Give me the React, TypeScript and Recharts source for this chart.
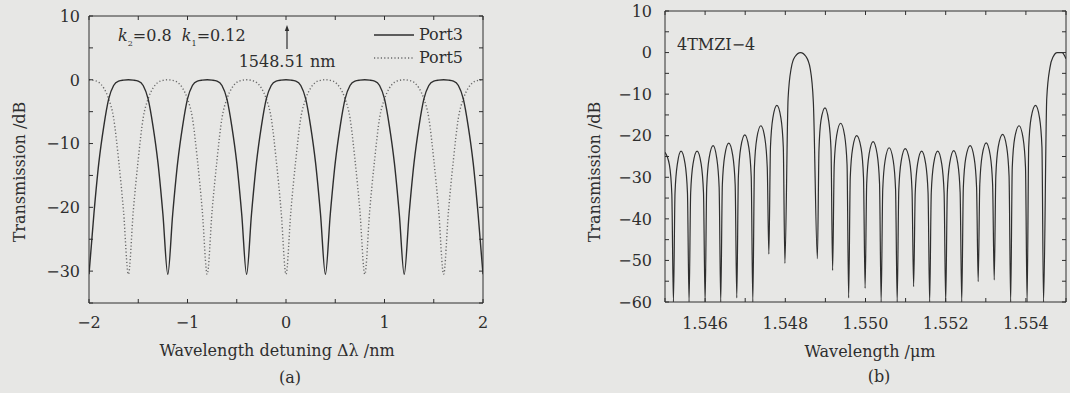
import React from "react";
import { Legend, Line, LineChart, XAxis, YAxis } from "recharts";

// (a) detuning in nm, sampled every 0.05 nm
const detuning = [
  -2, -1.95, -1.9, -1.85, -1.8, -1.75, -1.7, -1.65, -1.6, -1.55, -1.5, -1.45, -1.4, -1.35, -1.3, -1.25,
  -1.2, -1.15, -1.1, -1.05, -1, -0.95, -0.9, -0.85, -0.8, -0.75, -0.7, -0.65, -0.6, -0.55, -0.5, -0.45,
  -0.4, -0.35, -0.3, -0.25, -0.2, -0.15, -0.1, -0.05, 0, 0.05, 0.1, 0.15, 0.2, 0.25, 0.3, 0.35,
  0.4, 0.45, 0.5, 0.55, 0.6, 0.65, 0.7, 0.75, 0.8, 0.85, 0.9, 0.95, 1, 1.05, 1.1, 1.15,
  1.2, 1.25, 1.3, 1.35, 1.4, 1.45, 1.5, 1.55, 1.6, 1.65, 1.7, 1.75, 1.8, 1.85, 1.9, 1.95, 2,
];

const port3 = [
  -30.5, -21, -13, -7.3, -3, -0.9, -0.2, -0.05, 0, -0.05, -0.2, -0.9, -3, -7.3, -13, -21,
  -30.5, -21, -13, -7.3, -3, -0.9, -0.2, -0.05, 0, -0.05, -0.2, -0.9, -3, -7.3, -13, -21,
  -30.5, -21, -13, -7.3, -3, -0.9, -0.2, -0.05, 0, -0.05, -0.2, -0.9, -3, -7.3, -13, -21,
  -30.5, -21, -13, -7.3, -3, -0.9, -0.2, -0.05, 0, -0.05, -0.2, -0.9, -3, -7.3, -13, -21,
  -30.5, -21, -13, -7.3, -3, -0.9, -0.2, -0.05, 0, -0.05, -0.2, -0.9, -3, -7.3, -13, -21,
  -30.5,
];

const port5 = [
  0, -0.1, -0.4, -1.3, -3, -6, -12.5, -20.5, -30.5, -20.5, -12.5, -6, -3, -1.3, -0.4, -0.1,
  0, -0.1, -0.4, -1.3, -3, -6, -12.5, -20.5, -30.5, -20.5, -12.5, -6, -3, -1.3, -0.4, -0.1,
  0, -0.1, -0.4, -1.3, -3, -6, -12.5, -20.5, -30.5, -20.5, -12.5, -6, -3, -1.3, -0.4, -0.1,
  0, -0.1, -0.4, -1.3, -3, -6, -12.5, -20.5, -30.5, -20.5, -12.5, -6, -3, -1.3, -0.4, -0.1,
  0, -0.1, -0.4, -1.3, -3, -6, -12.5, -20.5, -30.5, -20.5, -12.5, -6, -3, -1.3, -0.4, -0.1,
  0,
];

const ticksAX = [-2, -1.5, -1, -0.5, 0, 0.5, 1, 1.5, 2];
const labelsAX = [-2, -1, 0, 1, 2];
const ticksAY = [10, 5, 0, -5, -10, -15, -20, -25, -30, -35];
const labelsAY = [10, 0, -10, -20, -30];

// (b) 4TMZI-4 spectrum: [wavelength um, transmission dB], one lobe per line
const spectrum4TMZI: [number, number][] = [
  [1.545, -24], [1.54511, -27], [1.54517, -34], [1.54521, -60],
  [1.54525, -33.7], [1.54531, -26.7], [1.5454, -23.7], [1.5455, -26.7], [1.54556, -33.7], [1.5456, -60],
  [1.54564, -33.7], [1.5457, -26.7], [1.5458, -23.7], [1.5459, -26.7], [1.54596, -33.7], [1.546, -60],
  [1.54604, -32.4], [1.5461, -25.4], [1.5462, -22.4], [1.54629, -25.4], [1.54635, -32.4], [1.54639, -60],
  [1.54643, -31.8], [1.54649, -24.8], [1.54659, -21.8], [1.54669, -24.8], [1.54675, -31.8], [1.54679, -59],
  [1.54683, -29.8], [1.54689, -22.8], [1.54699, -19.8], [1.54709, -22.8], [1.54715, -29.8], [1.54719, -60],
  [1.54723, -27.6], [1.54729, -20.6], [1.54739, -17.6], [1.54749, -20.6], [1.54755, -27.6], [1.54759, -48.5],
  [1.54763, -22.7], [1.54769, -15.7], [1.54779, -12.7], [1.54789, -15.7], [1.54795, -22.7], [1.54799, -50.7],
  [1.54807, -11], [1.54815, -3.6], [1.54824, -1], [1.54838, 0], [1.54852, -1], [1.54862, -3.8], [1.5487, -12], [1.5488, -49.6],
  [1.54884, -23.3], [1.54889, -16.3], [1.54899, -13.3], [1.54908, -16.3], [1.54914, -23.3], [1.54918, -52.4],
  [1.54922, -27], [1.54928, -20], [1.54938, -17], [1.54948, -20], [1.54954, -27], [1.54958, -59],
  [1.54962, -30], [1.54968, -23], [1.54978, -20], [1.54989, -23], [1.54995, -30], [1.54999, -56.7],
  [1.55003, -31.4], [1.55009, -24.4], [1.55019, -21.4], [1.55029, -24.4], [1.55035, -31.4], [1.55039, -60],
  [1.55043, -32.9], [1.55049, -25.9], [1.55059, -22.9], [1.55069, -25.9], [1.55075, -32.9], [1.55079, -60],
  [1.55083, -33.1], [1.55089, -26.1], [1.55099, -23.1], [1.5511, -26.1], [1.55116, -33.1], [1.5512, -56.3],
  [1.55124, -33.7], [1.5513, -26.7], [1.5514, -23.7], [1.5515, -26.7], [1.55156, -33.7], [1.5516, -60],
  [1.55164, -33.7], [1.5517, -26.7], [1.5518, -23.7], [1.5519, -26.7], [1.55196, -33.7], [1.552, -60],
  [1.55204, -33.6], [1.5521, -26.6], [1.5522, -23.6], [1.5523, -26.6], [1.55236, -33.6], [1.5524, -60],
  [1.55244, -32.4], [1.5525, -25.4], [1.55261, -22.4], [1.55271, -25.4], [1.55277, -32.4], [1.55281, -55.1],
  [1.55285, -31.7], [1.55291, -24.7], [1.55301, -21.7], [1.55311, -24.7], [1.55317, -31.7], [1.55321, -54.7],
  [1.55325, -29.7], [1.55331, -22.7], [1.55342, -19.7], [1.55352, -22.7], [1.55358, -29.7], [1.55362, -60],
  [1.55366, -27.6], [1.55372, -20.6], [1.55383, -17.6], [1.55393, -20.6], [1.55399, -27.6], [1.55403, -60],
  [1.55407, -22.7], [1.55413, -15.7], [1.55424, -12.7], [1.55434, -15.7], [1.5544, -22.7], [1.55444, -60],
  [1.55452, -11], [1.5546, -3.6], [1.55468, -1], [1.55478, 0], [1.5549, 0], [1.555, -1.5],
];

const ticksBX = [1.545, 1.546, 1.547, 1.548, 1.549, 1.55, 1.551, 1.552, 1.553, 1.554, 1.555];
const labelsBX = [1.546, 1.548, 1.55, 1.552, 1.554];
const ticksBY = [10, 5, 0, -5, -10, -15, -20, -25, -30, -35, -40, -45, -50, -55, -60];
const labelsBY = [10, 0, -10, -20, -30, -40, -50, -60];

const INK = "#2e2e2e";
const FONT = "'DejaVu Serif', serif";
const FS = 16;

const dataA = detuning.map((x, i) => ({ x, p3: port3[i], p5: port5[i] }));
const dataB = spectrum4TMZI.map(([x, t]) => ({ x, t }));

const minus = (v: number) => (v < 0 ? "\u2212" + Math.abs(v) : String(v));

function AxisTick(props: any) {
  const { x, y, payload, side, gap = 0, labels = [], fmt = minus } = props;
  const v = payload.value;
  const major = labels.some((l: number) => Math.abs(l - v) < 1e-9);
  const len = 4;
  const textStyle = { fontFamily: FONT, fontSize: FS, fill: INK };
  if (side === "left") {
    const ax = x + gap;
    return (
      <g>
        <line x1={ax} x2={ax + len} y1={y} y2={y} stroke={INK} />
        {major && (
          <text x={x} y={y} dy="0.36em" textAnchor="end" style={textStyle}>
            {fmt(v)}
          </text>
        )}
      </g>
    );
  }
  if (side === "bottom") {
    const ay = y - gap;
    return (
      <g>
        <line x1={x} x2={x} y1={ay} y2={ay - len} stroke={INK} />
        {major && (
          <text x={x} y={y} dy="0.36em" textAnchor="middle" style={textStyle}>
            {fmt(v)}
          </text>
        )}
      </g>
    );
  }
  if (side === "right") return <line x1={x} x2={x - len} y1={y} y2={y} stroke={INK} />;
  return <line x1={x} x2={x} y1={y} y2={y + len} stroke={INK} />;
}

function Txt({ x, y, children, anchor = "middle", rotate = false, style = {} }: any) {
  const tx = anchor === "start" ? "0" : "-50%";
  return (
    <div
      style={{
        position: "absolute",
        left: x,
        top: y,
        transform: `translate(${tx}, -50%)${rotate ? " rotate(-90deg)" : ""}`,
        transformOrigin: anchor === "start" ? "left center" : "center",
        fontFamily: FONT,
        fontSize: FS,
        color: INK,
        whiteSpace: "nowrap",
        lineHeight: 1,
        ...style,
      }}
    >
      {children}
    </div>
  );
}

function PortLegend() {
  const row = (dash: string | undefined, stroke: string, label: string) => (
    <div style={{ display: "flex", alignItems: "center", height: 23 }}>
      <svg width={42} height={6}>
        <line x1={1} x2={41} y1={3} y2={3} stroke={stroke} strokeWidth={1.4} strokeDasharray={dash} />
      </svg>
      <span style={{ marginLeft: 4, fontFamily: FONT, fontSize: FS, color: INK }}>{label}</span>
    </div>
  );
  return (
    <div>
      {row(undefined, INK, "Port3")}
      {row("1.2 2.2", "#6a6a6a", "Port5")}
    </div>
  );
}

function PanelA() {
  return (
    <LineChart width={520} height={393} data={dataA} margin={{ top: 15, right: 36, bottom: 50, left: 19 }}>
      <XAxis
        xAxisId="b"
        dataKey="x"
        type="number"
        domain={[-2, 2]}
        ticks={ticksAX}
        interval={0}
        allowDataOverflow
        height={40}
        tickSize={0}
        tickMargin={19}
        tickLine={false}
        axisLine={{ stroke: INK }}
        tick={(p: any) => <AxisTick {...p} side="bottom" gap={19} labels={labelsAX} />}
      />
      <XAxis
        xAxisId="t"
        orientation="top"
        dataKey="x"
        type="number"
        domain={[-2, 2]}
        ticks={ticksAX}
        interval={0}
        allowDataOverflow
        height={1}
        tickSize={0}
        tickMargin={0}
        tickLine={false}
        axisLine={{ stroke: INK }}
        tick={(p: any) => <AxisTick {...p} side="top" />}
      />
      <YAxis
        yAxisId="l"
        type="number"
        domain={[-35, 10]}
        ticks={ticksAY}
        interval={0}
        allowDataOverflow
        width={70}
        tickSize={0}
        tickMargin={9}
        tickLine={false}
        axisLine={{ stroke: INK }}
        tick={(p: any) => <AxisTick {...p} side="left" gap={9} labels={labelsAY} />}
      />
      <YAxis
        yAxisId="r"
        orientation="right"
        type="number"
        domain={[-35, 10]}
        ticks={ticksAY}
        interval={0}
        allowDataOverflow
        width={1}
        tickSize={0}
        tickMargin={0}
        tickLine={false}
        axisLine={{ stroke: INK }}
        tick={(p: any) => <AxisTick {...p} side="right" />}
      />
      <Legend
        layout="vertical"
        align="center"
        verticalAlign="middle"
        wrapperStyle={{ left: 373, top: 23, width: 110, height: 46 }}
        content={() => <PortLegend />}
      />
      <Line
        xAxisId="b"
        yAxisId="l"
        name="Port5"
        dataKey="p5"
        type="monotone"
        stroke="#6a6a6a"
        strokeWidth={1.4}
        strokeDasharray="1.2 2.2"
        dot={false}
        isAnimationActive={false}
      />
      <Line
        xAxisId="b"
        yAxisId="l"
        name="Port3"
        dataKey="p3"
        type="monotone"
        stroke={INK}
        strokeWidth={1.4}
        dot={false}
        isAnimationActive={false}
      />
    </LineChart>
  );
}

function PanelB() {
  return (
    <LineChart width={530} height={393} data={dataB} margin={{ top: 10, right: 3, bottom: 51, left: 55 }}>
      <XAxis
        xAxisId="b"
        dataKey="x"
        type="number"
        domain={[1.545, 1.555]}
        ticks={ticksBX}
        interval={0}
        allowDataOverflow
        height={40}
        tickSize={0}
        tickMargin={21}
        tickLine={false}
        axisLine={{ stroke: INK }}
        tick={(p: any) => (
          <AxisTick {...p} side="bottom" gap={21} labels={labelsBX} fmt={(v: number) => v.toFixed(3)} />
        )}
      />
      <XAxis
        xAxisId="t"
        orientation="top"
        dataKey="x"
        type="number"
        domain={[1.545, 1.555]}
        ticks={ticksBX}
        interval={0}
        allowDataOverflow
        height={1}
        tickSize={0}
        tickMargin={0}
        tickLine={false}
        axisLine={{ stroke: INK }}
        tick={(p: any) => <AxisTick {...p} side="top" />}
      />
      <YAxis
        yAxisId="l"
        type="number"
        domain={[-60, 10]}
        ticks={ticksBY}
        interval={0}
        allowDataOverflow
        width={70}
        tickSize={0}
        tickMargin={13}
        tickLine={false}
        axisLine={{ stroke: INK }}
        tick={(p: any) => <AxisTick {...p} side="left" gap={13} labels={labelsBY} />}
      />
      <YAxis
        yAxisId="r"
        orientation="right"
        type="number"
        domain={[-60, 10]}
        ticks={ticksBY}
        interval={0}
        allowDataOverflow
        width={1}
        tickSize={0}
        tickMargin={0}
        tickLine={false}
        axisLine={{ stroke: INK }}
        tick={(p: any) => <AxisTick {...p} side="right" />}
      />
      <Line
        xAxisId="b"
        yAxisId="l"
        dataKey="t"
        type="monotone"
        stroke={INK}
        strokeWidth={1.2}
        dot={false}
        isAnimationActive={false}
      />
    </LineChart>
  );
}

export default function App() {
  return (
    <div style={{ position: "absolute", left: 0, top: 0, width: 1070, height: 393, background: "#e7e7e5", overflow: "hidden" }}>
      <div style={{ position: "absolute", left: 0, top: 0 }}>
        <PanelA />
      </div>
      <div style={{ position: "absolute", left: 540, top: 0 }}>
        <PanelB />
      </div>

      {/* panel (a) titles and notes */}
      <Txt x={20} y={172} rotate>Transmission /dB</Txt>
      <Txt x={277} y={351}>Wavelength detuning Δλ /nm</Txt>
      <Txt x={290} y={378}>(a)</Txt>
      <Txt x={118} y={38} anchor="start">
        <i>k</i>
        <sub style={{ fontSize: 8 }}>2</sub>=0.8&nbsp;&nbsp;<i>k</i>
        <sub style={{ fontSize: 8 }}>1</sub>=0.12
      </Txt>
      <Txt x={287} y={62}>1548.51 nm</Txt>
      <svg width={1070} height={393} style={{ position: "absolute", left: 0, top: 0, pointerEvents: "none" }}>
        <line x1={287} x2={287} y1={49} y2={29} stroke={INK} strokeWidth={1.2} />
        <polygon points="287,25 284.8,31 289.2,31" fill={INK} />
      </svg>

      {/* panel (b) titles and notes */}
      <Txt x={595} y={172} rotate>Transmission /dB</Txt>
      <Txt x={870} y={352}>Wavelength /μm</Txt>
      <Txt x={879} y={377}>(b)</Txt>
      <Txt x={677} y={45} anchor="start">4TMZI−4</Txt>
    </div>
  );
}
